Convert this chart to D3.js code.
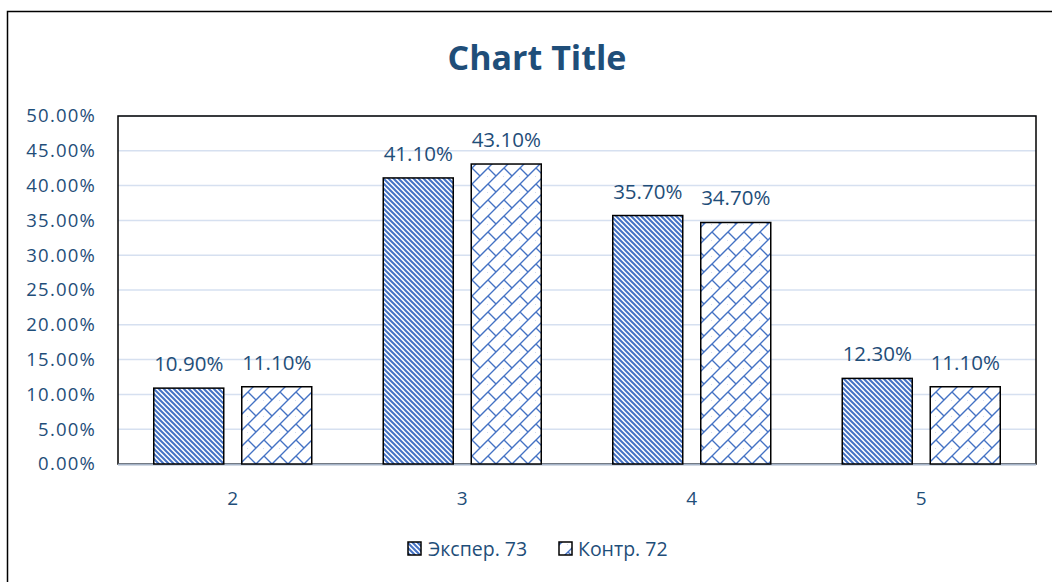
<!DOCTYPE html>
<html><head><meta charset="utf-8">
<script src="https://cdn.jsdelivr.net/npm/d3@7"></script>
<style>body{margin:0;background:#fff}svg{display:block}text{font-family:"Open Sans",sans-serif}</style>
</head><body>
<script>
const categories = ["2","3","4","5"];
const seriesNames = ["Экспер. 73","Контр. 72"];
const exper = [0.109,0.411,0.357,0.123];
const kontr = [0.111,0.431,0.347,0.111];
const yTicks = [0,0.05,0.10,0.15,0.20,0.25,0.30,0.35,0.40,0.45,0.50];

const W=1052,H=582;
const svg=d3.select("body").append("svg").attr("width",W).attr("height",H);
const defs=svg.append("defs");
const blue="#4472C4", txt="#1F4E79";
// pattern 1: wide downward diagonal stripes
const p1=defs.append("pattern").attr("id","p1").attr("patternUnits","userSpaceOnUse").attr("width",5).attr("height",5);
p1.append("rect").attr("width",5).attr("height",5).attr("fill","#fff");
p1.append("path").attr("d","M-1,-1 L6,6 M-3,2 L3,8 M2,-3 L8,3").attr("stroke",blue).attr("stroke-width",2);
// pattern 2: diagonal brick
const p2=defs.append("pattern").attr("id","p2").attr("patternUnits","userSpaceOnUse").attr("width",16).attr("height",16);
p2.append("rect").attr("width",16).attr("height",16).attr("fill","#fff");
p2.append("path").attr("d","M-2,18 L18,-2 M-2,2 L2,-2 M14,18 L18,14 M8,8 L16,16 M0,-8 L8,0 M-8,8 L0,16")
  .attr("stroke",blue).attr("stroke-width",1.4);
// chart border
svg.append("rect").attr("x",7.5).attr("y",11.5).attr("width",1100).attr("height",700).attr("fill","none").attr("stroke","#000").attr("stroke-width",1.5);

const L=118,R=1036,T=116,B=464;
const x=d3.scaleBand().domain(categories).range([L,R]);
const y=d3.scaleLinear().domain([0,0.5]).range([B,T]);

svg.append("g").selectAll("line").data(yTicks.slice(1)).join("line")
  .attr("x1",L).attr("x2",R).attr("y1",d=>y(d)).attr("y2",d=>y(d))
  .attr("stroke","#D6E0F0").attr("stroke-width",1.5);

const yAxis=d3.axisLeft(y).tickValues(yTicks).tickFormat(d3.format(".2%")).tickSize(0).tickPadding(22);
const gy=svg.append("g").attr("transform",`translate(${L},0)`).call(yAxis);
gy.select(".domain").remove();
gy.selectAll("text").attr("fill",txt).attr("font-size",18.5).attr("letter-spacing",1.2);

const xAxis=d3.axisBottom(x).tickSize(0).tickPadding(28);
const gx=svg.append("g").attr("transform",`translate(0,${B})`).call(xAxis);
gx.select(".domain").remove();
gx.selectAll("text").attr("fill",txt).attr("font-size",19);

svg.append("rect").attr("x",L).attr("y",T).attr("width",R-L).attr("height",B-T).attr("fill","none").attr("stroke","#000").attr("stroke-width",1.5);
svg.append("line").attr("x1",L).attr("x2",R).attr("y1",B+0.5).attr("y2",B+0.5).attr("stroke","#A6B4C8").attr("stroke-width",2);

const bw=70, off=44;
const series=[{vals:exper,fill:"url(#p1)",dx:-off},{vals:kontr,fill:"url(#p2)",dx:off}];
series.forEach(s=>{
  svg.append("g").selectAll("rect").data(categories).join("rect")
    .attr("x",(c)=>x(c)+x.bandwidth()/2+s.dx-bw/2).attr("width",bw)
    .attr("y",(c,i)=>y(s.vals[i])).attr("height",(c,i)=>B-y(s.vals[i]))
    .attr("fill",s.fill).attr("stroke","#000").attr("stroke-width",1.5);
  svg.append("g").selectAll("text").data(categories).join("text")
    .attr("x",(c)=>x(c)+x.bandwidth()/2+s.dx).attr("y",(c,i)=>y(s.vals[i])-17)
    .attr("text-anchor","middle").attr("fill",txt).attr("font-size",20.5)
    .text((c,i)=>d3.format(".2%")(s.vals[i]));
});

svg.append("text").attr("x",537).attr("y",70).attr("text-anchor","middle").attr("fill",txt)
  .attr("font-size",34).attr("font-weight","bold").text("Chart Title");

// legend
const leg=svg.append("g");
const items=[{n:seriesNames[0],f:"url(#p1)",x:408,tx:428},{n:seriesNames[1],f:"url(#p2)",x:559,tx:578}];
items.forEach(it=>{
  leg.append("rect").attr("x",it.x).attr("y",542).attr("width",13).attr("height",13).attr("fill",it.f).attr("stroke","#000").attr("stroke-width",1.5);
  leg.append("text").attr("x",it.tx).attr("y",556).attr("fill",txt).attr("font-size",19.5).text(it.n);
});
</script>
</body></html>
